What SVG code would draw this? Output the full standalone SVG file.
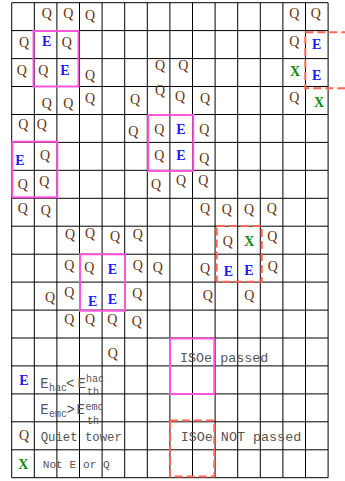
<svg xmlns="http://www.w3.org/2000/svg" width="345" height="481" viewBox="0 0 345 481">
<style>
.g{stroke:#000;stroke-width:1;fill:none}
.q{font-family:"Liberation Serif",serif;font-size:14px;fill:#663311;text-anchor:middle}
.e{font-family:"Liberation Serif",serif;font-size:14px;font-weight:bold;fill:#1a1aff;text-anchor:middle}
.x{font-family:"Liberation Serif",serif;font-size:14px;font-weight:bold;fill:#118811;text-anchor:middle}
.pk{fill:none;stroke:#ff55dd;stroke-width:2}
.rd{fill:none;stroke:#ff6655;stroke-width:2;stroke-dasharray:8 4}
.t{font-family:"Liberation Mono",monospace;fill:#555}
</style>
<rect width="345" height="481" fill="#fff"/>
<g id="grid" class="g">
<path d="M11.7 2.7V477.7M34.3 2.7V477.7M56.9 2.7V477.7M79.5 2.7V477.7M102.1 2.7V477.7M124.7 2.7V477.7M147.3 2.7V477.7M169.9 2.7V477.7M192.5 2.7V477.7M215.1 2.7V477.7M237.7 2.7V477.7M260.3 2.7V477.7M282.9 2.7V477.7M305.5 2.7V477.7M328.1 2.7V477.7"/>
<path d="M11.7 2.7H328.1M11.7 30.6H328.1M11.7 58.6H328.1M11.7 86.5H328.1M11.7 114.5H328.1M11.7 142.4H328.1M11.7 170.3H328.1M11.7 198.3H328.1M11.7 226.2H328.1M11.7 254.2H328.1M11.7 282.1H328.1M11.7 310.1H328.1M11.7 338H328.1M11.7 365.9H328.1M11.7 393.9H328.1M11.7 421.8H328.1M11.7 449.8H328.1M11.7 477.7H328.1"/>
</g>
<g id="towers">
<text class="q" x="46.7" y="17.5">Q</text><text class="q" x="68.3" y="17.5">Q</text><text class="q" x="90" y="20.2">Q</text><text class="q" x="294.3" y="17.5">Q</text><text class="q" x="315.7" y="17.5">Q</text>
<text class="q" x="24" y="46.8">Q</text><text class="e" x="46.7" y="46.2">E</text><text class="q" x="66.7" y="46.8">Q</text><text class="q" x="294.3" y="46.2">Q</text><text class="e" x="316.7" y="48.8">E</text>
<text class="q" x="21.7" y="75.2">Q</text><text class="q" x="43.3" y="75.2">Q</text><text class="e" x="65" y="75.2">E</text><text class="q" x="90" y="79.5">Q</text><text class="q" x="160" y="69.5">Q</text><text class="q" x="183.3" y="69.5">Q</text><text class="x" x="295" y="75.5">X</text><text class="e" x="316.7" y="79.5">E</text>
<text class="q" x="46.7" y="107.5">Q</text><text class="q" x="68.3" y="107.5">Q</text><text class="q" x="90" y="102.8">Q</text><text class="q" x="135" y="104.2">Q</text><text class="q" x="160" y="95.2">Q</text><text class="q" x="180" y="100.8">Q</text><text class="q" x="205" y="102.5">Q</text><text class="q" x="294.3" y="101.8">Q</text><text class="x" x="319" y="106.5">X</text>
<text class="q" x="23.3" y="128.5">Q</text><text class="q" x="41.7" y="128.5">Q</text><text class="q" x="133.3" y="136.2">Q</text><text class="q" x="159.3" y="134.2">Q</text><text class="e" x="181" y="133.5">E</text><text class="q" x="204.3" y="134.2">Q</text>
<text class="e" x="20" y="164.5">E</text><text class="q" x="45" y="159.5">Q</text><text class="q" x="159.3" y="159.5">Q</text><text class="e" x="181" y="159.5">E</text><text class="q" x="204.3" y="162.8">Q</text>
<text class="q" x="22.7" y="188.5">Q</text><text class="q" x="44.3" y="185.8">Q</text><text class="q" x="156" y="188.5">Q</text><text class="q" x="181" y="184.5">Q</text><text class="q" x="203.3" y="185.2">Q</text>
<text class="q" x="22.7" y="212.8">Q</text><text class="q" x="45.7" y="215.2">Q</text><text class="q" x="205" y="212.5">Q</text><text class="q" x="226.7" y="213.5">Q</text><text class="q" x="249" y="213.5">Q</text><text class="q" x="271.7" y="212.8">Q</text>
<text class="q" x="70" y="238.5">Q</text><text class="q" x="90" y="237.5">Q</text><text class="q" x="115" y="240.8">Q</text><text class="q" x="137.7" y="239.2">Q</text><text class="q" x="227.7" y="246.2">Q</text><text class="x" x="249.3" y="245.5">X</text><text class="q" x="272.3" y="240.8">Q</text>
<text class="q" x="69.3" y="270.2">Q</text><text class="q" x="89.3" y="271.8">Q</text><text class="e" x="112.3" y="273.5">E</text><text class="q" x="137.7" y="270.2">Q</text><text class="q" x="157.7" y="271.8">Q</text><text class="q" x="205" y="272.8">Q</text><text class="e" x="228.3" y="276.2">E</text><text class="e" x="249" y="275.2">E</text><text class="q" x="272.7" y="270.8">Q</text>
<text class="q" x="50" y="301.8">Q</text><text class="q" x="69.3" y="296.8">Q</text><text class="e" x="92.7" y="305.5">E</text><text class="e" x="112.3" y="303.5">E</text><text class="q" x="137.3" y="297.5">Q</text><text class="q" x="207.7" y="300.2">Q</text><text class="q" x="249.3" y="300.2">Q</text>
<text class="q" x="69.3" y="323.5">Q</text><text class="q" x="90" y="323.5">Q</text><text class="q" x="112.3" y="323.5">Q</text><text class="q" x="136.7" y="325.8">Q</text>
<text class="q" x="112.7" y="357.5">Q</text>
</g>
<g id="isolation-boxes">
<rect class="pk" x="33.5" y="31" width="45" height="55.5"/>
<rect class="pk" x="148.2" y="115" width="45" height="56"/>
<rect class="pk" x="12.3" y="141.7" width="45" height="55.6"/>
<rect class="pk" x="80" y="254.3" width="45" height="56.4"/>
<rect class="rd" x="305.3" y="32.3" width="46" height="56"/>
<rect class="rd" x="216.7" y="226" width="45" height="55.7"/>
</g>
<g id="legend">
<text class="e" x="24" y="385.2">E</text>
<text class="t" font-size="14" x="40.2" y="388.3">E</text>
<text class="t" font-size="10" x="49" y="390.7">hac</text>
<text class="t" font-size="14" x="66" y="388.3">&lt;</text>
<text class="t" font-size="14" x="77.5" y="388.3">E</text>
<text class="t" font-size="10" x="86" y="381.5">hac</text>
<text class="t" font-size="10" x="87" y="395">th</text>
<text class="t" font-size="14" x="40.2" y="414">E</text>
<text class="t" font-size="10" x="49" y="417.3">emc</text>
<text class="t" font-size="14" x="66.5" y="414">&gt;</text>
<text class="t" font-size="14" x="76.5" y="414">E</text>
<text class="t" font-size="10" x="85.5" y="410.3">emc</text>
<text class="t" font-size="10" x="87" y="424">th</text>
<text class="q" x="24" y="440.2">Q</text>
<text class="t" font-size="12.3" x="40.7" y="441">Quiet tower</text>
<text class="x" x="23.3" y="468.5">X</text>
<text class="t" font-size="11.2" x="42.7" y="467.7">Not E or Q</text>
<rect class="pk" x="170" y="338.5" width="44.3" height="55.5"/>
<text class="t" font-size="13.4" x="180" y="361.5">ISOe passed</text>
<rect class="rd" x="170" y="420.5" width="44.3" height="56"/>
<text class="t" font-size="13.4" x="180.7" y="440.7">ISOe NOT passed</text>
</g>
</svg>
